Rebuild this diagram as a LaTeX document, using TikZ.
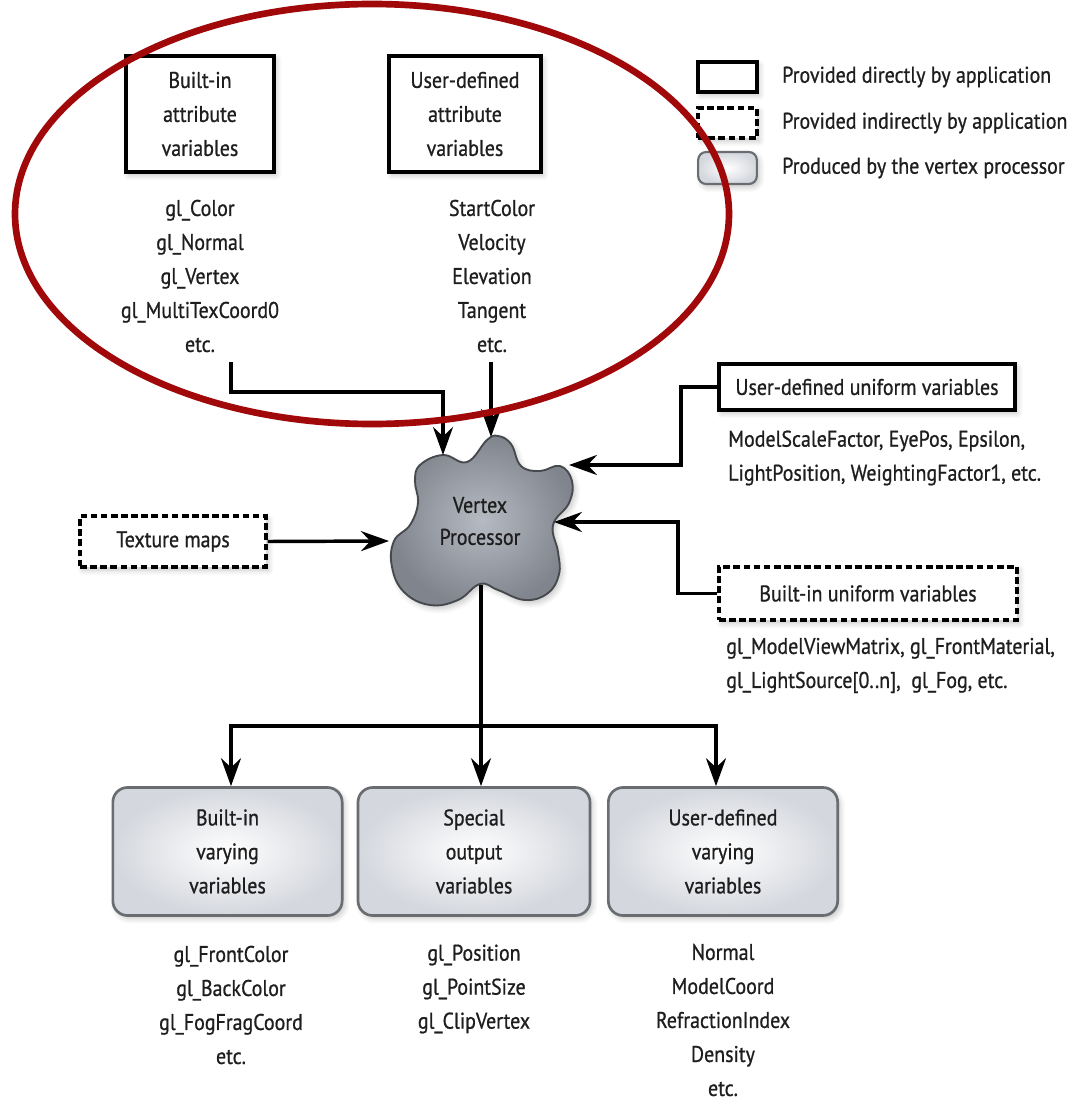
\documentclass[tikz,border=0pt]{standalone}
\usepackage{fontspec}
\setmainfont{PT Sans}[FakeStretch=0.88, FakeBold=0.8]
\usetikzlibrary{arrows.meta,shadows.blur}
\definecolor{ink}{RGB}{30,30,30}
\definecolor{ringred}{RGB}{160,8,10}
\definecolor{boxedge}{RGB}{105,108,112}
\definecolor{boxfill}{RGB}{212,215,221}
\definecolor{cloudin}{RGB}{182,186,194}
\definecolor{cloudout}{RGB}{128,132,140}
\begin{document}
\begin{tikzpicture}[x=0.75pt,y=-0.75pt,
  every node/.style={font=\fontsize{17}{25.5}\selectfont, text=ink, inner sep=0pt},
  soft/.style={blur shadow={shadow blur steps=6, shadow xshift=2pt, shadow yshift=-2.5pt,
    shadow blur radius=4pt, shadow opacity=22}},
  appbox/.style={draw=black, line width=2.6pt, fill=white, soft},
  indbox/.style={draw=black, line width=2.6pt, fill=white, dash pattern=on 5pt off 2.6pt, soft},
  outbox/.style={draw=boxedge, line width=2pt, rounded corners=11pt,
    inner color=white, outer color=boxfill, soft,
    minimum width=172pt, minimum height=96pt, align=center},
  vlist/.style={align=center},
  hlist/.style={align=left, anchor=west},
  wire/.style={line width=2.6pt, draw=black},
  tip/.style={wire, -{Stealth[length=21pt,width=15pt,inset=7pt]}},
]
\useasboundingbox (0,0) rectangle (1084,1102);

% attribute inputs
\node[appbox, minimum width=111pt, minimum height=87pt, align=center] (battr) at (200,114)
  {Built-in\\attribute\\variables};
\node[appbox, minimum width=114pt, minimum height=87pt, align=center] (uattr) at (465,114)
  {User-defined\\attribute\\variables};
\node[vlist] (blist) at (200,276) {gl\_Color\\gl\_Normal\\gl\_Vertex\\gl\_MultiTexCoord0\\etc.};
\node[vlist] (ulist) at (492,276) {StartColor\\Velocity\\Elevation\\Tangent\\etc.};

% legend
\node[appbox, minimum width=44pt, minimum height=22.5pt] (lg1) at (727.5,77) {};
\node[indbox, minimum width=44pt, minimum height=22.5pt] (lg2) at (727.5,123) {};
\node[outbox, minimum width=44pt, minimum height=24pt, rounded corners=6pt, line width=1.6pt] (lg3) at (727.5,168) {};
\node[hlist] (lt1) at (782,77) {Provided directly by application};
\node[hlist] (lt2) at (782,123) {Provided indirectly by application};
\node[hlist] (lt3) at (782,168) {Produced by the vertex processor};

% vertex processor
\path[draw=cloudout!55!black, line width=1.4pt, inner color=cloudin, outer color=cloudout, soft]
  plot[smooth cycle, tension=0.7] coordinates {
    (420,465) (443,455) (467,462) (487,440) (498,436) (511,444) (521,466)
    (540,471) (560,466) (572,481) (569,503) (553,525) (558,552) (559,574)
    (548,593) (525,600) (498,590) (480,584) (458,600) (430,605) (404,592)
    (392,567) (394,541) (410,525) (418,503) (415,481)};
\node[align=center, font=\fontsize{17}{24}\selectfont] (vp) at (480,521) {Vertex\\Processor};
\coordinate (vpA) at (443,455);
\coordinate (vpB) at (491,437);
\coordinate (vpC) at (569,465);
\coordinate (vpD) at (554,522);
\coordinate (vpE) at (389,541);
\coordinate (vpF) at (481,585);

% uniforms and textures
\node[appbox, minimum width=222pt, minimum height=34.5pt] (uuni) at (867,387) {User-defined uniform variables};
\node[hlist] (uunilist) at (728,458) {ModelScaleFactor, EyePos, Epsilon,\\LightPosition, WeightingFactor1, etc.};
\node[indbox, minimum width=139.5pt, minimum height=38pt] (tex) at (173,541.5) {Texture maps};
\node[indbox, minimum width=223.5pt, minimum height=40pt] (buni) at (868,593.5) {Built-in uniform variables};
\node[hlist] (bunilist) at (726,665.5) {gl\_ModelViewMatrix, gl\_FrontMaterial,\\gl\_LightSource[0..n],\ \ gl\_Fog, etc.};

% outputs
\node[outbox] (bvary) at (227.5,851.5) {Built-in\\varying\\variables};
\node[outbox, minimum width=174pt] (spec) at (474,851.5) {Special\\output\\variables};
\node[outbox] (uvary) at (723,851.5) {User-defined\\varying\\variables};
\node[vlist] (bvlist) at (231,1005) {gl\_FrontColor\\gl\_BackColor\\gl\_FogFragCoord\\etc.};
\node[vlist] (splist) at (474,989) {gl\_Position\\gl\_PointSize\\gl\_ClipVertex};
\node[vlist] (uvlist) at (723,1020) {Normal\\ModelCoord\\RefractionIndex\\Density\\etc.};

% connectors
\coordinate (bstart) at (231,362);
\coordinate (ustart) at (491,362);
\coordinate (split) at (481,726);
\draw[tip] (bstart) |- (443,392) -- (vpA);
\draw[tip] (ustart) -- (vpB);
\draw[tip] (uuni.west) -- (681,387) |- (vpC);
\draw[tip] (buni.west) -- (678,593.5) |- (vpD);
\draw[tip] (tex.east) -- (vpE);
\draw[tip] (vpF) -- (vpF |- spec.north);
\draw[tip] (split) -| (bvary.north -| 231,0);
\draw[tip] (split) -| (uvary.north -| 716,0);

% highlight ring
\draw[ringred, line width=5pt] (372,214) ellipse [x radius=357, y radius=210];
\end{tikzpicture}
\end{document}
